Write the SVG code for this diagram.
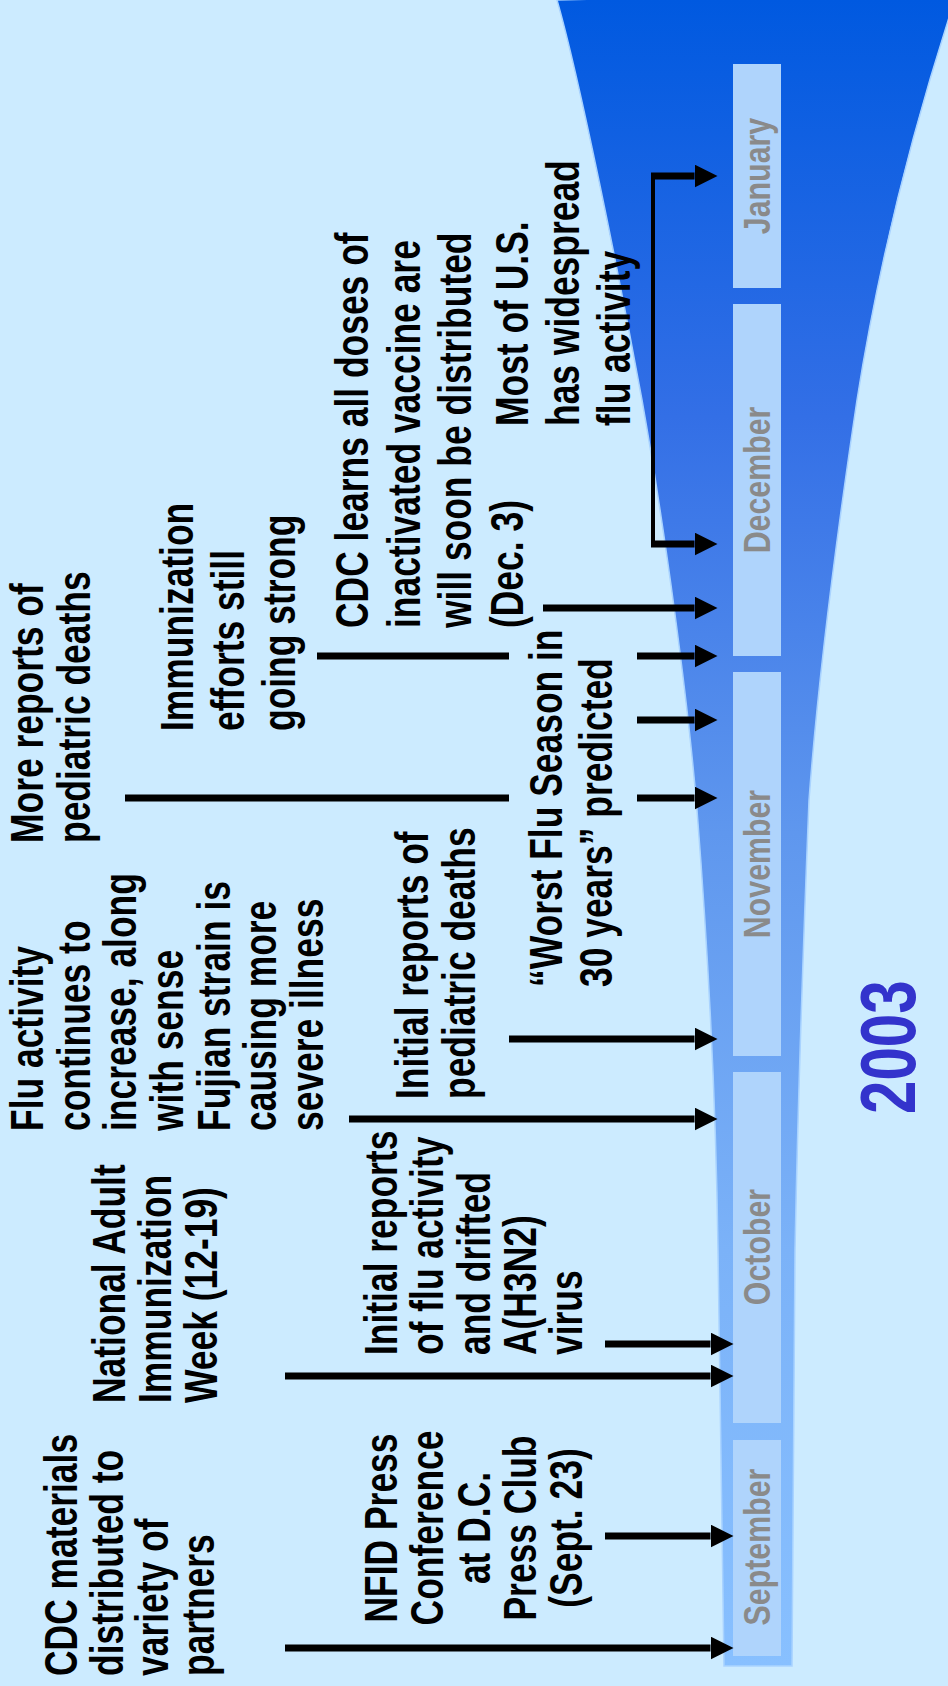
<svg xmlns="http://www.w3.org/2000/svg" width="948" height="1686" viewBox="0 0 948 1686">
<defs>
<linearGradient id="funnelGrad" x1="0" y1="0" x2="0" y2="1666" gradientUnits="userSpaceOnUse">
<stop offset="0" stop-color="#0059E0"/>
<stop offset="0.25" stop-color="#336FE6"/>
<stop offset="0.5" stop-color="#5F97EE"/>
<stop offset="0.75" stop-color="#7BB2F8"/>
<stop offset="1" stop-color="#88C0FF"/>
</linearGradient>
<marker id="head" viewBox="0 0 23 23" refX="0" refY="11.5" markerWidth="23" markerHeight="23" markerUnits="userSpaceOnUse" orient="auto">
<path d="M0,0 L23,11.5 L0,23 Z" fill="#000"/>
</marker>
<style>
.lbl{font-family:"Liberation Sans",Arial,sans-serif;font-weight:bold;font-size:46px;fill:#000}
.mon{font-family:"Liberation Sans",Arial,sans-serif;font-weight:bold;font-size:37px;fill:#8A8A8A;text-anchor:middle}
.yr{font-family:"Liberation Sans",Arial,sans-serif;font-weight:bold;font-size:78px;fill:#3333CC}
.bar{fill:#AFD4FC}
.ln{stroke:#000;stroke-width:7;fill:none}
.arr{stroke:#000;stroke-width:7;fill:none;marker-end:url(#head)}
.thin{stroke:#000;stroke-width:4;fill:none}
</style>
</defs>
<rect x="0" y="0" width="948" height="1686" fill="#CCEBFF"/>
<g id="funnel">
<path d="M557,0 C580,80 620,280 642,400 C665,530 688,700 697,810 C708,950 716,1100 718,1250 L724,1666 L792,1666 L795,1250 C798,1100 803,950 809,800 C818,680 836,540 857,400 C876,280 905,150 958,-10 Z" fill="url(#funnelGrad)" stroke="#A9D3FF" stroke-width="1.5"/>
</g>
<g id="months">
<g id="month-january"><rect class="bar" x="733" y="64" width="48" height="224"/><text class="mon" transform="translate(770,176) rotate(-90) scale(0.82,1)">January</text></g>
<g id="month-december"><rect class="bar" x="733" y="304" width="48" height="352"/><text class="mon" transform="translate(770,480) rotate(-90) scale(0.82,1)">December</text></g>
<g id="month-november"><rect class="bar" x="733" y="672" width="48" height="384"/><text class="mon" transform="translate(770,864) rotate(-90) scale(0.82,1)">November</text></g>
<g id="month-october"><rect class="bar" x="733" y="1072" width="48" height="351"/><text class="mon" transform="translate(770,1247) rotate(-90) scale(0.82,1)">October</text></g>
<g id="month-september"><rect class="bar" x="733" y="1440" width="48" height="216"/><text class="mon" transform="translate(770,1547) rotate(-90) scale(0.82,1)">September</text></g>
</g>
<g id="year"><text class="yr" transform="translate(915,1114) rotate(-90) scale(0.77,1)">2003</text></g>
<g id="connectors">
<line class="arr" x1="285" y1="1648" x2="710.5" y2="1648"/>
<line class="arr" x1="605" y1="1536" x2="710.5" y2="1536"/>
<line class="arr" x1="285" y1="1376" x2="710.5" y2="1376"/>
<line class="arr" x1="605" y1="1344" x2="710.5" y2="1344"/>
<line class="arr" x1="349" y1="1119" x2="694.5" y2="1119"/>
<line class="arr" x1="509" y1="1039" x2="694.5" y2="1039"/>
<line class="ln" x1="125" y1="798" x2="509" y2="798"/>
<line class="arr" x1="637" y1="798" x2="694.5" y2="798"/>
<line class="arr" x1="637" y1="720" x2="694.5" y2="720"/>
<line class="ln" x1="317" y1="656" x2="509" y2="656"/>
<line class="arr" x1="637" y1="656" x2="694.5" y2="656"/>
<line class="arr" x1="543" y1="608" x2="694.5" y2="608"/>
<line class="thin" x1="653" y1="174" x2="653" y2="546"/>
<line class="arr" x1="651" y1="544" x2="694.5" y2="544"/>
<line class="arr" x1="651" y1="176" x2="694.5" y2="176"/>
</g>
<g id="node-cdc-materials"><text class="lbl" transform="translate(77,1676) rotate(-90) scale(0.77,1)"><tspan x="0" y="0">CDC materials</tspan><tspan x="0" dy="45.7">distributed to</tspan><tspan x="0" dy="45.7">variety of</tspan><tspan x="0" dy="45.7">partners</tspan></text></g>
<g id="node-national-adult"><text class="lbl" transform="translate(125,1403) rotate(-90) scale(0.77,1)"><tspan x="0" y="0">National Adult</tspan><tspan x="0" dy="46">Immunization</tspan><tspan x="0" dy="46">Week (12-19)</tspan></text></g>
<g id="node-nfid"><text class="lbl" text-anchor="middle" transform="translate(397,1528) rotate(-90) scale(0.77,1)"><tspan x="0" y="0">NFID Press</tspan><tspan x="0" dy="46.3">Conference</tspan><tspan x="0" dy="46.3">at D.C.</tspan><tspan x="0" dy="46.3">Press Club</tspan><tspan x="0" dy="46.3">(Sept. 23)</tspan></text></g>
<g id="node-initial-flu"><text class="lbl" transform="translate(397,1355) rotate(-90) scale(0.77,1)"><tspan x="0" y="0">Initial reports</tspan><tspan x="0" dy="46.3">of flu activity</tspan><tspan x="0" dy="46.3">and drifted</tspan><tspan x="0" dy="46.3">A(H3N2)</tspan><tspan x="0" dy="46.3">virus</tspan></text></g>
<g id="node-flu-activity"><text class="lbl" transform="translate(43,1131) rotate(-90) scale(0.77,1)"><tspan x="0" y="0">Flu activity</tspan><tspan x="0" dy="46.7">continues to</tspan><tspan x="0" dy="46.7">increase, along</tspan><tspan x="0" dy="46.7">with sense</tspan><tspan x="0" dy="46.7">Fujian strain is</tspan><tspan x="0" dy="46.7">causing more</tspan><tspan x="0" dy="46.7">severe illness</tspan></text></g>
<g id="node-initial-pediatric"><text class="lbl" transform="translate(428,1099) rotate(-90) scale(0.77,1)"><tspan x="0" y="0">Initial reports of</tspan><tspan x="0" dy="47">pediatric deaths</tspan></text></g>
<g id="node-worst-flu"><text class="lbl" transform="translate(562,987) rotate(-90) scale(0.77,1)"><tspan x="0" y="0">“Worst Flu Season in</tspan><tspan x="0" dy="50">30 years” predicted</tspan></text></g>
<g id="node-more-reports"><text class="lbl" transform="translate(43,843) rotate(-90) scale(0.77,1)"><tspan x="0" y="0">More reports of</tspan><tspan x="0" dy="47">pediatric deaths</tspan></text></g>
<g id="node-immunization"><text class="lbl" transform="translate(193,731) rotate(-90) scale(0.77,1)"><tspan x="0" y="0">Immunization</tspan><tspan x="0" dy="51">efforts still</tspan><tspan x="0" dy="51">going strong</tspan></text></g>
<g id="node-cdc-learns"><text class="lbl" transform="translate(368,628) rotate(-90) scale(0.77,1)"><tspan x="0" y="0">CDC learns all doses of</tspan><tspan x="0" dy="51.7">inactivated vaccine are</tspan><tspan x="0" dy="51.7">will soon be distributed</tspan><tspan x="0" dy="51.7">(Dec. 3)</tspan></text></g>
<g id="node-most-us"><text class="lbl" transform="translate(528,426) rotate(-90) scale(0.77,1)"><tspan x="0" y="0">Most of U.S.</tspan><tspan x="0" dy="51">has widespread</tspan><tspan x="0" dy="51">flu activity</tspan></text></g>
</svg>
